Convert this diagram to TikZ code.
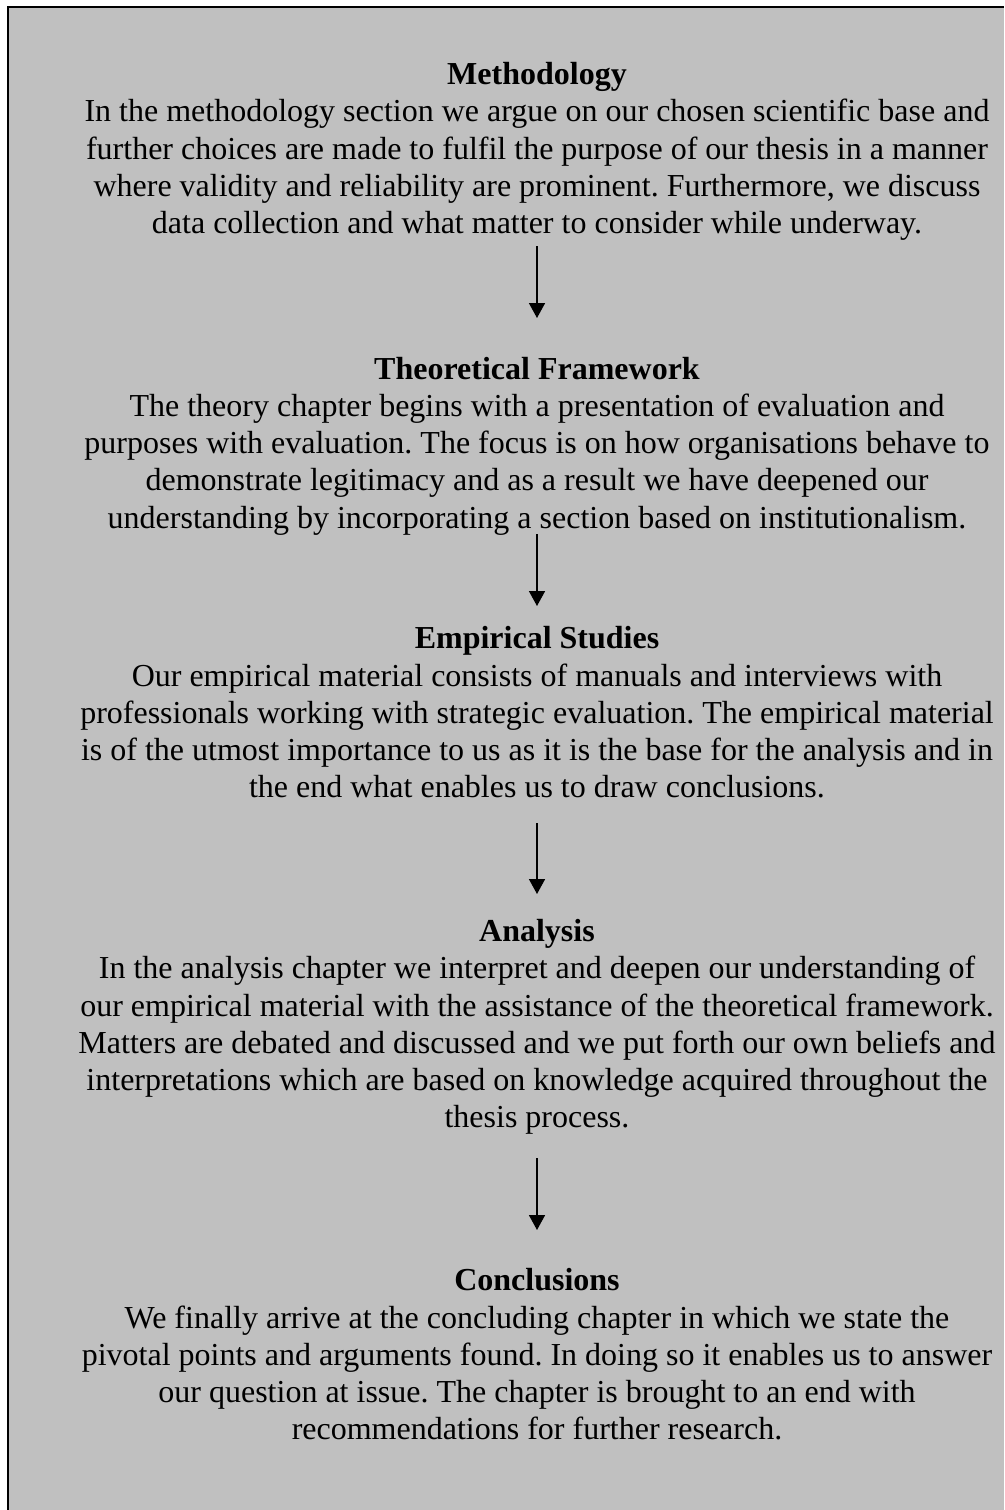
\documentclass[tikz,border=0pt]{standalone}
\usepackage{fontspec}
\setmainfont{Liberation Serif}
\usetikzlibrary{arrows.meta}
\definecolor{panel}{HTML}{C0C0C0}
\frenchspacing
\tikzset{
  sect/.style={align=center, inner sep=0pt, font=\fontsize{32}{37.3}\selectfont},
  flow/.style={line width=1.6pt, -{Triangle[width=16pt,length=15pt]}}
}
\begin{document}
\begin{tikzpicture}[x=1pt,y=-1pt]
\useasboundingbox (0,0) rectangle (1004,1510);
\fill[white] (0,0) rectangle (1004,1510);
\fill[panel] (8,7) rectangle (1004,1510);
\draw[line width=2pt] (8,1510) -- (8,7) -- (1004,7);

\node[sect] (meth) at (537,151.5) {\textbf{Methodology}\\
In the methodology section we argue on our chosen scientific base and\\
further choices are made to fulfil the purpose of our thesis in a manner\\
where validity and reliability are prominent. Furthermore, we discuss\\
data collection and what matter to consider while underway.};

\node[sect] (theo) at (537,446) {\textbf{Theoretical Framework}\\
The theory chapter begins with a presentation of evaluation and\\
purposes with evaluation. The focus is on how organisations behave to\\
demonstrate legitimacy and as a result we have deepened our\\
understanding by incorporating a section based on institutionalism.};

\node[sect] (emp) at (537,712.5) {\textbf{Empirical Studies}\\
Our empirical material consists of manuals and interviews with\\
professionals working with strategic evaluation. The empirical material\\
is of the utmost importance to us as it is the base for the analysis and in\\
the end what enables us to draw conclusions.};

\node[sect] (ana) at (537,1027) {\textbf{Analysis}\\
In the analysis chapter we interpret and deepen our understanding of\\
our empirical material with the assistance of the theoretical framework.\\
Matters are debated and discussed and we put forth our own beliefs and\\
interpretations which are based on knowledge acquired throughout the\\
thesis process.};

\node[sect] (conc) at (537,1354.5) {\textbf{Conclusions}\\
We finally arrive at the concluding chapter in which we state the\\
pivotal points and arguments found. In doing so it enables us to answer\\
our question at issue. The chapter is brought to an end with\\
recommendations for further research.};

\coordinate (a1s) at (537,246); \coordinate (a1e) at (537,318);
\coordinate (a2s) at (537,534); \coordinate (a2e) at (537,606);
\coordinate (a3s) at (537,823); \coordinate (a3e) at (537,894);
\coordinate (a4s) at (537,1158); \coordinate (a4e) at (537,1230);
\draw[flow] (a1s) -- (a1e);
\draw[flow] (a2s) -- (a2e);
\draw[flow] (a3s) -- (a3e);
\draw[flow] (a4s) -- (a4e);
\end{tikzpicture}
\end{document}
